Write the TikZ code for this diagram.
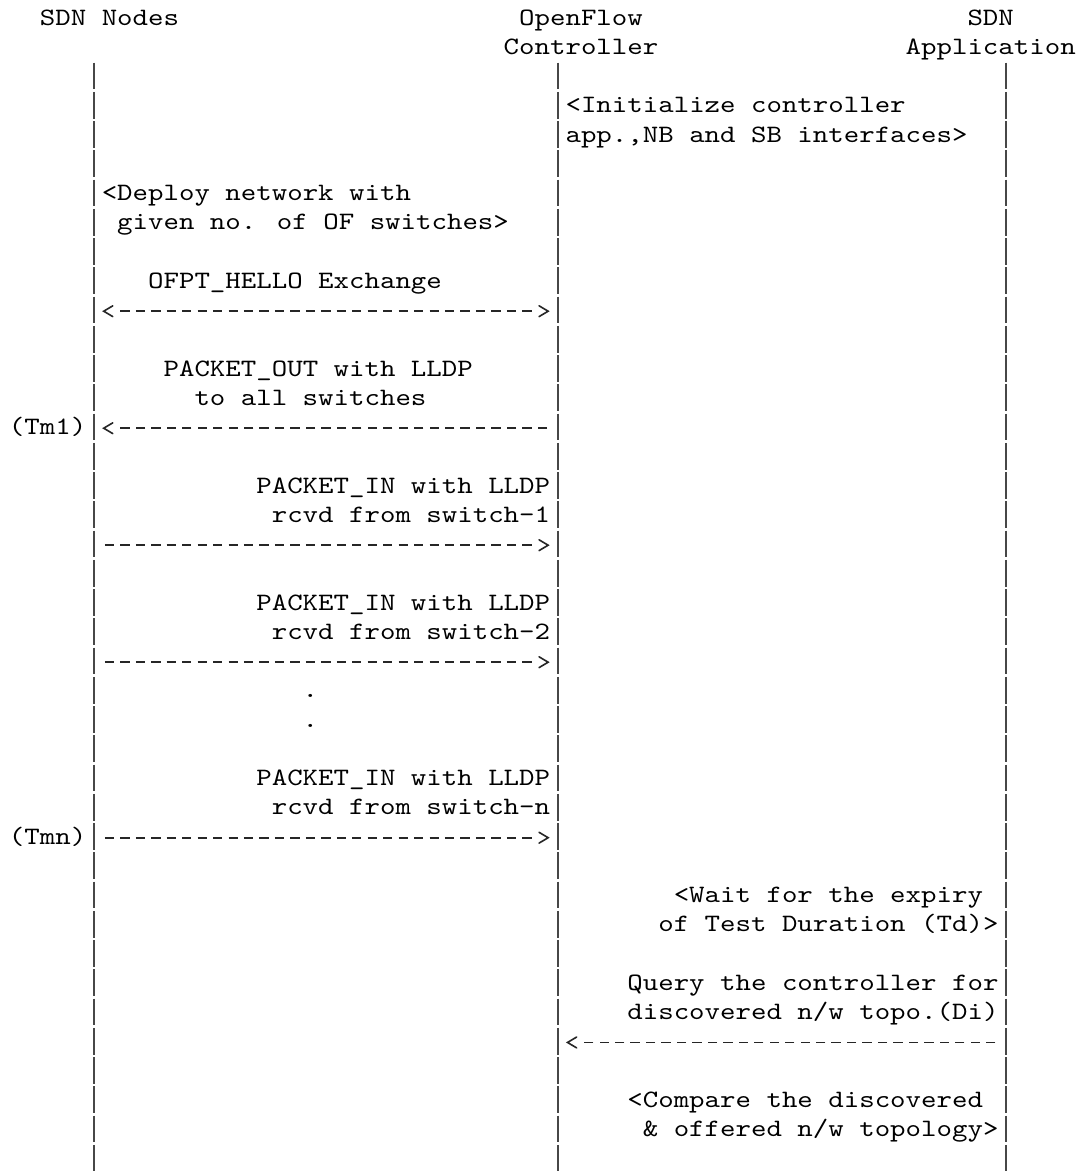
\documentclass[tikz,border=0pt]{standalone}
\usepackage{fontspec}
\newfontfamily\cmono[FakeStretch=1.178]{lmmono10-regular.otf}
\usetikzlibrary{arrows.meta}
\newcommand\diafont{\cmono\fontsize{25pt}{29.25pt}\selectfont}
\newcommand\colx[1]{9+15.46*(#1)}
\newcommand\rowy[1]{25+29.25*(#1)}
\pgfdeclarearrow{
  name = Chev,
  setup code = {
    \pgfarrowssettipend{0pt}
    \pgfarrowssetlineend{-17pt}
    \pgfarrowssetbackend{-9.5pt}
  },
  drawing code = {
    \pgfsetdash{}{0pt}
    \pgfsetroundcap
    \pgfsetmiterjoin
    \pgfpathmoveto{\pgfqpoint{-9.5pt}{5.4pt}}
    \pgfpathlineto{\pgfqpoint{-0.4pt}{0pt}}
    \pgfpathlineto{\pgfqpoint{-9.5pt}{-5.4pt}}
    \pgfusepathqstroke
  }
}
\begin{document}
\begin{tikzpicture}[x=1pt,y=-1pt,
  lbl/.style={anchor=base west,inner sep=0pt,outer sep=0pt,font=\diafont,text=black},
  lifeline/.style={draw=black!72,line width=1.7pt,dash pattern=on 26.6pt off 2.65pt},
  msg/.style={draw=black!85,line width=1.6pt,dash pattern=on 9.28pt off 6.18pt}]
\fill[white] (0,0) rectangle (1086,1171);
\useasboundingbox (0,0) rectangle (1086,1171);

% headers
\node[lbl] (hdr-nodes) at ({\colx{2}},{\rowy{0}}) {SDN Nodes};
\node[lbl] (hdr-of) at ({\colx{33}},{\rowy{0}}) {OpenFlow};
\node[lbl] (hdr-sdn) at ({\colx{62}},{\rowy{0}}) {SDN};
\node[lbl] (hdr-ctrl) at ({\colx{32}},{\rowy{1}}) {Controller};
\node[lbl] (hdr-app) at ({\colx{58}},{\rowy{1}}) {Application};

% lifelines
\coordinate (n-top) at ({\colx{5.5}},62.7);
\coordinate (n-bot) at ({\colx{5.5}},1171.55);
\coordinate (c-top) at ({\colx{35.5}},62.7);
\coordinate (c-bot) at ({\colx{35.5}},1171.55);
\coordinate (a-top) at ({\colx{64.5}},62.7);
\coordinate (a-bot) at ({\colx{64.5}},1171.55);
\draw[lifeline] (n-top) -- (n-bot);
\draw[lifeline] (c-top) -- (c-bot);
\draw[lifeline] (a-top) -- (a-bot);

% texts
\node[lbl] (t-init1) at ({\colx{36}},{\rowy{3}}) {<Initialize controller};
\node[lbl] (t-init2) at ({\colx{36}},{\rowy{4}}) {app.,NB and SB interfaces>};
\node[lbl] (t-dep1) at ({\colx{6}},{\rowy{6}}) {<Deploy network with};
\node[lbl] (t-dep2) at ({\colx{7}},{\rowy{7}}) {given no. of OF switches>};
\node[lbl] (t-hello) at ({\colx{9}},{\rowy{9}}) {OFPT\_HELLO Exchange};
\node[lbl] (t-po1) at ({\colx{10}},{\rowy{12}}) {PACKET\_OUT with LLDP};
\node[lbl] (t-po2) at ({\colx{12}},{\rowy{13}}) {to all switches};
\node[lbl] (t-tm1) at ({\colx{0}},{\rowy{14}}) {(Tm1)};
\node[lbl] (t-pi1a) at ({\colx{16}},{\rowy{16}}) {PACKET\_IN with LLDP};
\node[lbl] (t-pi1b) at ({\colx{17}},{\rowy{17}}) {rcvd from switch-1};
\node[lbl] (t-pi2a) at ({\colx{16}},{\rowy{20}}) {PACKET\_IN with LLDP};
\node[lbl] (t-pi2b) at ({\colx{17}},{\rowy{21}}) {rcvd from switch-2};
\node[lbl] (t-dot1) at ({\colx{19}},{\rowy{23}}) {.};
\node[lbl] (t-dot2) at ({\colx{19}},{\rowy{24}}) {.};
\node[lbl] (t-pina) at ({\colx{16}},{\rowy{26}}) {PACKET\_IN with LLDP};
\node[lbl] (t-pinb) at ({\colx{17}},{\rowy{27}}) {rcvd from switch-n};
\node[lbl] (t-tmn) at ({\colx{0}},{\rowy{28}}) {(Tmn)};
\node[lbl] (t-wait1) at ({\colx{43}},{\rowy{30}}) {<Wait for the expiry};
\node[lbl] (t-wait2) at ({\colx{42}},{\rowy{31}}) {of Test Duration (Td)>};
\node[lbl] (t-q1) at ({\colx{40}},{\rowy{33}}) {Query the controller for};
\node[lbl] (t-q2) at ({\colx{40}},{\rowy{34}}) {discovered n/w topo.(Di)};
\node[lbl] (t-cmp1) at ({\colx{40}},{\rowy{37}}) {<Compare the discovered};
\node[lbl] (t-cmp2) at ({\colx{41}},{\rowy{38}}) {\& offered n/w topology>};

% messages
\coordinate (m1-l) at ({\colx{6.1}},{\rowy{10}-6.3});
\coordinate (m1-r) at ({\colx{34.9}},{\rowy{10}-6.3});
\draw[msg,{Chev}-{Chev}] (m1-l) -- (m1-r);

\coordinate (m2-r) at ({\colx{34.8}},{\rowy{14}-6.3});
\coordinate (m2-l) at ({\colx{6.1}},{\rowy{14}-6.3});
\draw[msg,-{Chev}] (m2-r) -- (m2-l);

\coordinate (m3-l) at ({\colx{6.2}},{\rowy{18}-6.3});
\coordinate (m3-r) at ({\colx{34.9}},{\rowy{18}-6.3});
\draw[msg,-{Chev}] (m3-l) -- (m3-r);

\coordinate (m4-l) at ({\colx{6.2}},{\rowy{22}-6.3});
\coordinate (m4-r) at ({\colx{34.9}},{\rowy{22}-6.3});
\draw[msg,-{Chev}] (m4-l) -- (m4-r);

\coordinate (m5-l) at ({\colx{6.2}},{\rowy{28}-6.3});
\coordinate (m5-r) at ({\colx{34.9}},{\rowy{28}-6.3});
\draw[msg,-{Chev}] (m5-l) -- (m5-r);

\coordinate (m6-r) at ({\colx{63.8}},{\rowy{35}-6.3});
\coordinate (m6-l) at ({\colx{36.1}},{\rowy{35}-6.3});
\draw[msg,-{Chev}] (m6-r) -- (m6-l);
\end{tikzpicture}
\end{document}
